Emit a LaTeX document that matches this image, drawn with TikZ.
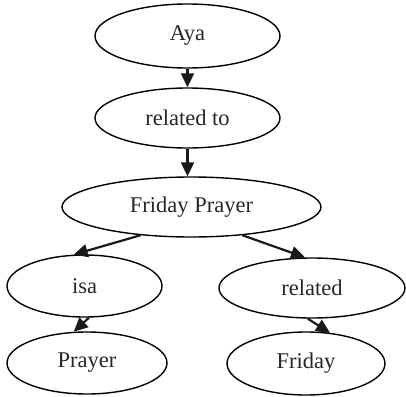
\documentclass[tikz,border=0pt]{standalone}
\usepackage{fontspec}
\setmainfont{Liberation Serif}
\usetikzlibrary{shapes.geometric,arrows.meta}
\begin{document}
\begin{tikzpicture}[x=1pt,y=-1pt,
  ell/.style={draw,ellipse,line width=1.4pt,inner sep=0pt,
    font=\fontsize{22.5}{26}\selectfont\rmfamily,text=black!85},
  conn/.style={line width=2.2pt,-{Triangle[length=14pt,width=13pt]},color=black!90}]
\useasboundingbox (0,0) rectangle (406,396);
\node[ell,minimum width=185pt,minimum height=64pt] (aya) at (187.5,36) {Aya};
\node[ell,minimum width=185pt,minimum height=60pt] (rt) at (187.5,118) {related to};
\node[ell,minimum width=259pt,minimum height=60pt] (fp) at (191.5,207) {Friday Prayer};
\node[ell,minimum width=155pt,minimum height=62pt] (isa) at (84.5,286) {isa};
\node[ell,minimum width=186pt,minimum height=60pt] (rel) at (312,288) {related};
\node[ell,minimum width=160pt,minimum height=62pt] (pr) at (87,363) {Prayer};
\node[ell,minimum width=158pt,minimum height=63pt] (fr) at (306,363.5) {Friday};
\draw[conn] (aya.south) -- (rt.north);
\draw[conn] (rt.south) -- (fp.north -| rt.south);
\draw[conn] (fp.209) -- (isa.109);
\draw[conn] (fp.331) -- (rel.103);
\draw[conn] (isa.278) -- (pr.113);
\draw[conn] (rel.262) -- (fr.52);
\end{tikzpicture}
\end{document}
